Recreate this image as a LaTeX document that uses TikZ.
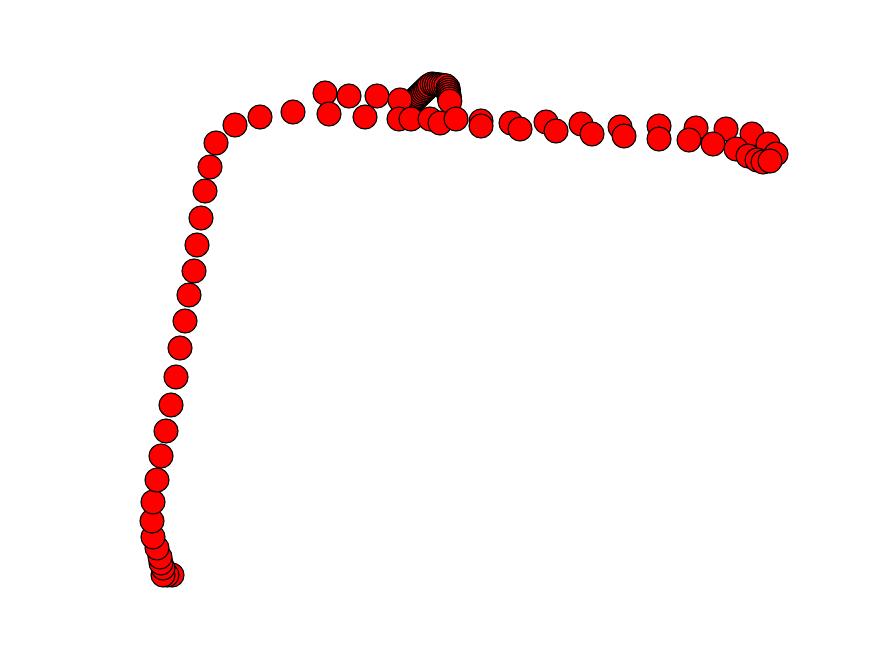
\documentclass[tikz,border=0pt]{standalone}
\usepackage{tikz}
\usetikzlibrary{positioning}
\definecolor{vtxRed}{RGB}{255,0,0}

\begin{document}
\begin{tikzpicture}[x=1pt,y=-1pt,
  vtx/.style={circle, draw=black, fill=vtxRed, line width=1.1pt, minimum size=24pt, inner sep=0pt}]
  \useasboundingbox (0,0) rectangle (882,652);

  % Left branch (bottom to top)
  \foreach \x/\y [count=\i] in {
    172/575,167/575,163/575,163/568,161/563,160/557,157/548,153/537,152/521,153/502,
    157/480,161/456,166/431,171/405,176/377,180/348,185/321,189/295,194/271,197/245,
    201/218,205/191,210/167,216/143,235/125,260/117,293/112} {
    \node[vtx] (l\i) at (\x,\y) {};
  }

  % Dense knot
  \foreach \k in {0,...,17} {
    \node[vtx] (k\k) at ({404+1.5*\k},{110-1.45*\k}) {};
  }
  \foreach \k in {0,...,6} {
    \node[vtx] (m\k) at ({432+2.3*\k},{84+0.3*\k}) {};
  }
  \foreach \k in {0,...,6} {
    \node[vtx] (n\k) at ({448+0.3*\k},{88+2.2*\k}) {};
  }

  % Upper row, left part
  \foreach \x/\y [count=\i] in {
    325/93,329/114,349/96,365/117,377/96,400/100,399/119} {
    \node[vtx] (u\i) at (\x,\y) {};
  }

  % Upper row, right part
  \foreach \x/\y [count=\i] in {
    411/119,430/119,440/123,456/119,481/121,481/126,511/123,520/129,546/122,556/131,
    581/124,592/134,620/127,624/136,659/126,659/139,696/128,689/140,726/129,713/144,
    752/134,736/149,768/144,748/156,776/154,757/160,763/162,770/161} {
    \node[vtx] (r\i) at (\x,\y) {};
  }
\end{tikzpicture}
\end{document}
